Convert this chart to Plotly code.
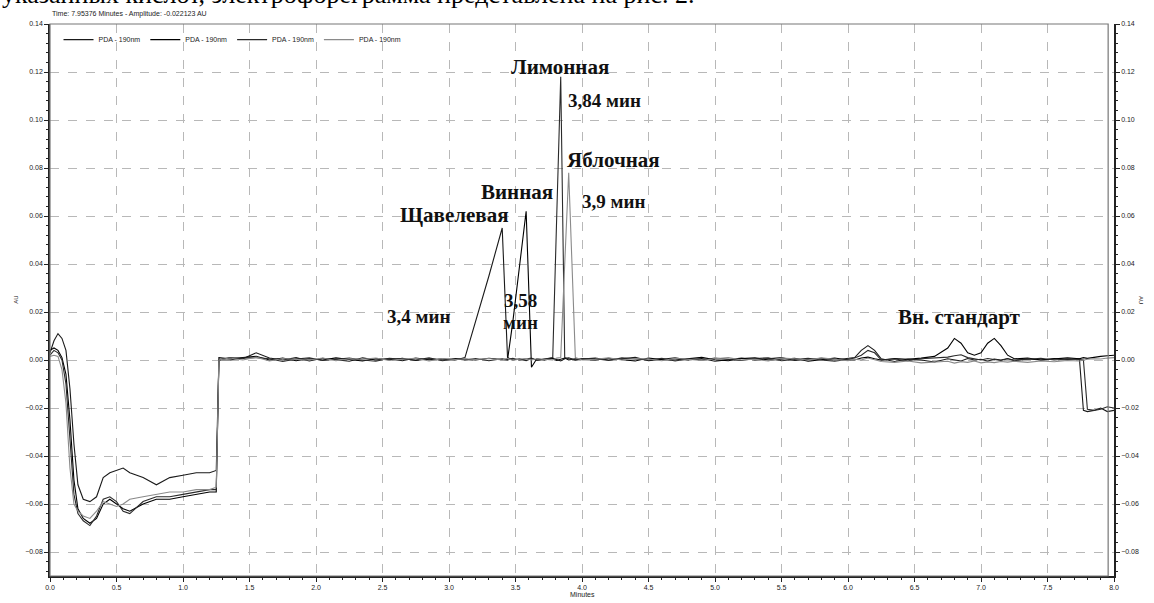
import plotly.graph_objects as go

# ---------------- data ----------------
x_seg0 = [0, 0.03, 0.06, 0.09, 0.12, 0.15, 0.18, 0.21, 0.25, 0.3, 0.35, 0.4, 0.45, 0.5, 0.55, 0.6,
          0.7, 0.8, 0.9, 1.0, 1.1, 1.2, 1.25, 1.27]
x_seg1 = [1.35, 1.45, 1.55, 1.65, 1.75, 1.85, 1.95, 2.05, 2.15, 2.25, 2.35, 2.45, 2.55, 2.65, 2.75,
          2.85, 2.95, 3.05]
x_seg2 = [3.12, 3.2, 3.3, 3.4, 3.44, 3.48, 3.53, 3.58, 3.62, 3.66, 3.72, 3.78, 3.81, 3.84, 3.87,
          3.9, 3.95, 4.0]
x_seg3 = [4.1, 4.2, 4.3, 4.4, 4.5, 4.6, 4.7, 4.8, 4.9, 5.0, 5.1, 5.2, 5.3, 5.4, 5.5, 5.6, 5.7, 5.8,
          5.9, 6.0]
x_seg4 = [6.05, 6.1, 6.15, 6.2, 6.25, 6.35, 6.45, 6.55, 6.65, 6.75, 6.8, 6.85, 6.9, 6.95, 7.0, 7.05,
          7.1, 7.15, 7.2, 7.25, 7.35, 7.45, 7.55, 7.65, 7.74, 7.77, 7.8, 7.85, 7.9, 7.95, 8.0]
minutes = x_seg0 + x_seg1 + x_seg2 + x_seg3 + x_seg4

trace1_au = (
    [0.003, 0.008, 0.011, 0.009, 0.004, -0.012, -0.035, -0.052, -0.058, -0.059, -0.057, -0.049,
     -0.047, -0.046, -0.045, -0.047, -0.049, -0.052, -0.049, -0.048, -0.047, -0.047, -0.046, 0.0]
    + [0.001, 0.0005, 0.003, 0.0008, 0.0, 0.001, -0.0004, 0.0007, 0.0002, -0.0005, 0.0009, 0.0,
       0.0006, -0.0003, 0.0008, 0.0001, 0.0005, 0.0]
    + [0.001, 0.016, 0.035, 0.055, 0.001, 0.0, 0.0005, -0.0003, 0.0006, 0.0, 0.0004, 0.0008,
       0.0002, -0.0004, 0.0005, 0.0009, 0.0, 0.0004]
    + [0.0008, 0.0, 0.0005, 0.0011, -0.0003, 0.0004, 0.0009, 0.0, 0.0006, -0.0005, 0.0003, 0.0008,
       0.0, 0.0005, 0.001, -0.0002, 0.0004, 0.0007, 0.0, 0.0005]
    + [0.001, 0.004, 0.006, 0.004, 0.0005, -0.0006, 0.0004, 0.0, -0.0008, 0.0005, 0.0002, -0.0004,
       0.0006, 0.0, 0.0003, -0.0005, 0.0004, 0.0, 0.0006, -0.0003, 0.0004, 0.0, 0.0006, 0.0002,
       0.0005, -0.021, -0.0215, -0.021, -0.020, -0.0215, -0.021]
)
trace2_au = (
    [0.004, 0.005, 0.004, 0.001, -0.006, -0.025, -0.05, -0.062, -0.066, -0.068, -0.066, -0.06,
     -0.058, -0.06, -0.062, -0.063, -0.06, -0.058, -0.058, -0.057, -0.056, -0.055, -0.055, 0.001]
    + [0.0005, 0.001, 0.0015, 0.0, 0.0008, -0.0003, 0.0005, 0.0, 0.0009, 0.0002, -0.0004, 0.0006,
       0.0001, 0.0007, -0.0002, 0.0005, 0.0, 0.0006]
    + [0.0004, 0.0, 0.0007, 0.0002, 0.0, 0.016, 0.04, 0.062, -0.003, 0.0005, 0.0, 0.0006, -0.0002,
       0.0004, 0.0008, 0.0, 0.0005, 0.0002]
    + [0.0, 0.0007, 0.0003, -0.0004, 0.0008, 0.0002, 0.0, 0.0006, 0.0011, 0.0001, -0.0003, 0.0006,
       0.0009, 0.0, 0.0004, 0.0007, -0.0005, 0.0002, 0.0008, 0.0]
    + [0.0, 0.0008, 0.0012, 0.0005, 0.0, 0.0006, 0.0003, 0.0008, 0.0015, 0.005, 0.009, 0.007, 0.003,
       0.002, 0.003, 0.007, 0.009, 0.006, 0.002, 0.0005, 0.0008, 0.0, 0.0005, 0.0009, 0.0005, 0.001,
       0.0007, 0.0012, 0.0015, 0.0018, 0.002]
)
trace3_au = (
    [0.002, 0.004, 0.003, 0.0, -0.01, -0.035, -0.056, -0.064, -0.067, -0.069, -0.065, -0.058,
     -0.057, -0.059, -0.063, -0.064, -0.059, -0.057, -0.057, -0.056, -0.055, -0.054, -0.054, 0.0]
    + [0.0, 0.0008, 0.001, 0.0005, -0.0006, 0.0004, 0.0009, -0.0002, 0.0003, 0.0008, 0.0, -0.0005,
       0.0007, 0.0002, 0.0, 0.0009, -0.0003, 0.0004]
    + [0.0, 0.0006, -0.0003, 0.0005, 0.0002, 0.0007, 0.0, 0.0004, 0.0008, -0.0002, 0.0005, 0.001,
       0.06, 0.118, 0.001, 0.0005, 0.0, 0.0006]
    + [0.0005, -0.0002, 0.0009, 0.0003, 0.0, 0.0007, -0.0004, 0.0005, 0.0, 0.0008, 0.0004, -0.0002,
       0.0006, 0.0009, -0.0003, 0.0002, 0.0007, 0.0, -0.0005, 0.0003]
    + [0.0008, 0.002, 0.004, 0.003, 0.0, 0.0004, -0.0003, 0.0005, 0.0009, 0.0012, 0.0018, 0.0022,
       0.001, 0.0004, 0.0, 0.0006, 0.0003, -0.0002, 0.0005, 0.0, 0.0003, 0.0007, 0.0, 0.0004,
       0.0002, 0.0, -0.0205, -0.021, -0.0205, -0.0195, -0.020]
)
trace4_au = (
    [0.0015, 0.002, 0.0015, -0.004, -0.018, -0.045, -0.06, -0.063, -0.065, -0.066, -0.063, -0.059,
     -0.06, -0.061, -0.06, -0.058, -0.057, -0.056, -0.055, -0.055, -0.054, -0.054, -0.053, 0.0]
    + [0.0008, 0.0, 0.0012, -0.0004, 0.0006, 0.0002, 0.0, 0.0008, -0.0003, 0.0005, 0.0003, 0.0008,
       -0.0002, 0.0004, 0.0007, -0.0004, 0.0006, 0.0002]
    + [0.0005, 0.0002, 0.0006, 0.0, 0.0007, -0.0002, 0.0004, 0.0006, 0.0, 0.0005, 0.0002, 0.0,
       0.0008, 0.001, 0.04, 0.078, 0.001, 0.0]
    + [0.0003, 0.0009, 0.0, 0.0006, 0.0004, -0.0003, 0.0007, 0.0002, -0.0002, 0.0005, 0.0010, 0.0,
       0.0003, -0.0004, 0.0008, 0.0005, 0.0, 0.0009, 0.0004, -0.0003]
    + [0.0003, 0.0, 0.0008, 0.0, -0.0006, -0.001, -0.0004, -0.0012, -0.0008, -0.0005, -0.0013,
       -0.0007, -0.001, -0.0004, -0.0012, -0.0008, -0.0011, -0.0006, -0.0009, -0.0005, -0.001,
       -0.0004, -0.0007, -0.0002, -0.0004, 0.0, 0.0003, 0.0005, 0.0004, 0.0008, 0.001]
)

series = [trace1_au, trace2_au, trace3_au, trace4_au]
series_names = ["PDA - 190nm", "PDA - 190nm", "PDA - 190nm", "PDA - 190nm"]
series_colors = ["#1a1a1a", "#000000", "#2a2a2a", "#8a8a8a"]

# peak labels: (text, x, y, font size)
peak_labels = [
    ("Лимонная", 3.835, 0.1221, 21),
    ("3,84 мин", 4.17, 0.1083, 19),
    ("Яблочная", 4.24, 0.0834, 21),
    ("Винная", 3.51, 0.0700, 21),
    ("3,9 мин", 4.24, 0.0659, 19),
    ("Щавелевая", 3.04, 0.0606, 21),
    ("3,4 мин", 2.77, 0.0183, 19),
    ("3,58", 3.54, 0.0246, 19),
    ("мин", 3.54, 0.0158, 19),
    ("Вн. стандарт", 6.84, 0.0179, 21),
]

x_range = [0, 8]
y_range = [-0.09, 0.14]
x_ticks = [0.0, 0.5, 1.0, 1.5, 2.0, 2.5, 3.0, 3.5, 4.0, 4.5, 5.0, 5.5, 6.0, 6.5, 7.0, 7.5, 8.0]
y_ticks = [-0.08, -0.06, -0.04, -0.02, 0.0, 0.02, 0.04, 0.06, 0.08, 0.10, 0.12, 0.14]

header_text = "Time: 7.95376 Minutes - Amplitude: -0.022123 AU"
doc_text = "указанных кислот, электрофореграмма представлена на рис. 2."

# ---------------- figure ----------------
fig = go.Figure()
for vals, name, col in zip(series, series_names, series_colors):
    fig.add_trace(go.Scatter(x=minutes, y=vals, mode="lines", name=name,
                             line=dict(color=col, width=1.1)))
# invisible trace to activate right axis
fig.add_trace(go.Scatter(x=minutes, y=trace1_au, yaxis="y2", mode="lines",
                         line=dict(color="rgba(0,0,0,0)", width=0), showlegend=False,
                         hoverinfo="skip"))

tickfont = dict(family="Liberation Sans, Arial", size=7, color="#222")
grid = dict(showgrid=True, gridcolor="#b8b8b8", gridwidth=1, griddash="dash")

fig.update_layout(
    width=1154, height=603,
    margin=dict(l=50, r=40, t=24, b=14),
    paper_bgcolor="white", plot_bgcolor="white",
    showlegend=True,
    legend=dict(orientation="h", x=0.008, y=0.998, xanchor="left", yanchor="top",
                font=dict(family="Liberation Sans, Arial", size=7, color="#222"),
                bgcolor="rgba(255,255,255,0)", itemwidth=30, tracegroupgap=0),
    xaxis=dict(range=x_range, tickvals=x_ticks, tickformat=".1f", tickfont=tickfont,
               ticks="outside", ticklen=4, tickcolor="#222", showline=True, linecolor="#222",
               linewidth=1.5, zeroline=False,
               minor=dict(dtick=0.1, ticks="outside", ticklen=2, tickcolor="#222", showgrid=False),
               **grid),
    yaxis=dict(range=y_range, tickvals=y_ticks, tickformat=".2f", tickfont=tickfont,
               ticks="outside", ticklen=4, tickcolor="#222", showline=True, linecolor="#222",
               linewidth=1.5, zeroline=False,
               minor=dict(dtick=0.004, tick0=0, ticks="outside", ticklen=2, tickcolor="#222",
                          showgrid=False),
               **grid),
    yaxis2=dict(range=y_range, overlaying="y", side="right", tickvals=y_ticks, tickformat=".2f",
                tickfont=tickfont, ticks="outside", ticklen=4, tickcolor="#222", showline=True,
                linecolor="#222", linewidth=1.5, showgrid=False, zeroline=False,
                minor=dict(dtick=0.004, tick0=0, ticks="outside", ticklen=2, tickcolor="#222")),
)

# gray inner frame (top + right)
fig.add_shape(type="rect", xref="paper", yref="paper", x0=0, x1=0.9945, y0=0, y1=1,
              line=dict(color="#777", width=1.2), fillcolor="rgba(0,0,0,0)", layer="above")

for txt, xv, yv, fs in peak_labels:
    fig.add_annotation(x=xv, y=yv, text="<b>%s</b>" % txt, showarrow=False,
                       font=dict(family="Liberation Serif, Times New Roman", size=fs, color="#111"),
                       xanchor="center", yanchor="middle")

fig.add_annotation(xref="paper", yref="paper", x=0.0, y=1.0, yshift=10, text=header_text,
                   showarrow=False, xanchor="left", yanchor="middle",
                   font=dict(family="Liberation Sans, Arial", size=7, color="#222"))
fig.add_annotation(xref="paper", yref="paper", x=-0.047, y=1.0248, yshift=-1, text=doc_text,
                   showarrow=False, xanchor="left", yanchor="bottom",
                   font=dict(family="Liberation Serif, Times New Roman", size=26, color="#000"))
fig.add_annotation(xref="paper", yref="paper", x=-0.037, y=0.5, text="AU", textangle=-90,
                   showarrow=False, font=dict(family="Liberation Sans, Arial", size=6, color="#222"))
fig.add_annotation(xref="paper", yref="paper", x=1.03, y=0.5, text="AU", textangle=90,
                   showarrow=False, font=dict(family="Liberation Sans, Arial", size=6, color="#222"))
fig.add_annotation(xref="paper", yref="paper", x=0.5, y=0, yshift=-24, text="Minutes",
                   showarrow=False, yanchor="bottom",
                   font=dict(family="Liberation Sans, Arial", size=7, color="#222"))

fig.write_html("out.html")
